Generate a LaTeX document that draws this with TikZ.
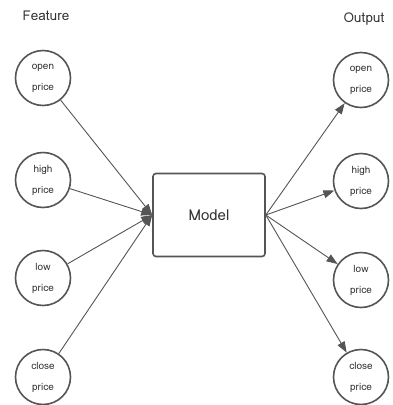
\documentclass[tikz,border=0pt]{standalone}
\usepackage{fontspec}
\newfontfamily\lomafont{Loma}
\usetikzlibrary{arrows.meta}
\definecolor{ink}{HTML}{555555}
\definecolor{txt}{HTML}{333333}
\tikzset{
  feat/.style={circle, draw=ink, line width=1.6pt, minimum size=55pt, inner sep=0pt,
    align=center, text=txt, font=\lomafont\fontsize{10pt}{21pt}\selectfont},
  modelbox/.style={draw=ink, line width=1.6pt, rounded corners=3pt, minimum width=112pt,
    minimum height=83pt, inner sep=0pt, text=txt, font=\lomafont\fontsize{15pt}{17pt}\selectfont},
  head/.style={text=txt, font=\lomafont\fontsize{13.5pt}{15pt}\selectfont},
  conn/.style={draw=ink, line width=0.9pt, -{Triangle[length=11pt,width=8pt]}}
}
\begin{document}
\begin{tikzpicture}[x=1pt,y=-1pt]
\useasboundingbox (0,0) rectangle (392,405);
\node[head] (feature) at (46,16) {Feature};
\node[head] (output) at (364,19) {Output};
\node[feat] (i1) at (43,78) {open\\price};
\node[feat] (i2) at (43,180) {high\\price};
\node[feat] (i3) at (43,278) {low\\price};
\node[feat] (i4) at (43,377) {close\\price};
\node[feat] (o1) at (361,80) {open\\price};
\node[feat] (o2) at (361,181) {high\\price};
\node[feat] (o3) at (361,280) {low\\price};
\node[feat] (o4) at (361,377) {close\\price};
\node[modelbox] (model) at (209,215) {Model};
\foreach \i in {1,2,3,4} {
  \draw[conn] (i\i) -- (model.west);
  \draw[conn] (model.east) -- (o\i);
}
\end{tikzpicture}
\end{document}
